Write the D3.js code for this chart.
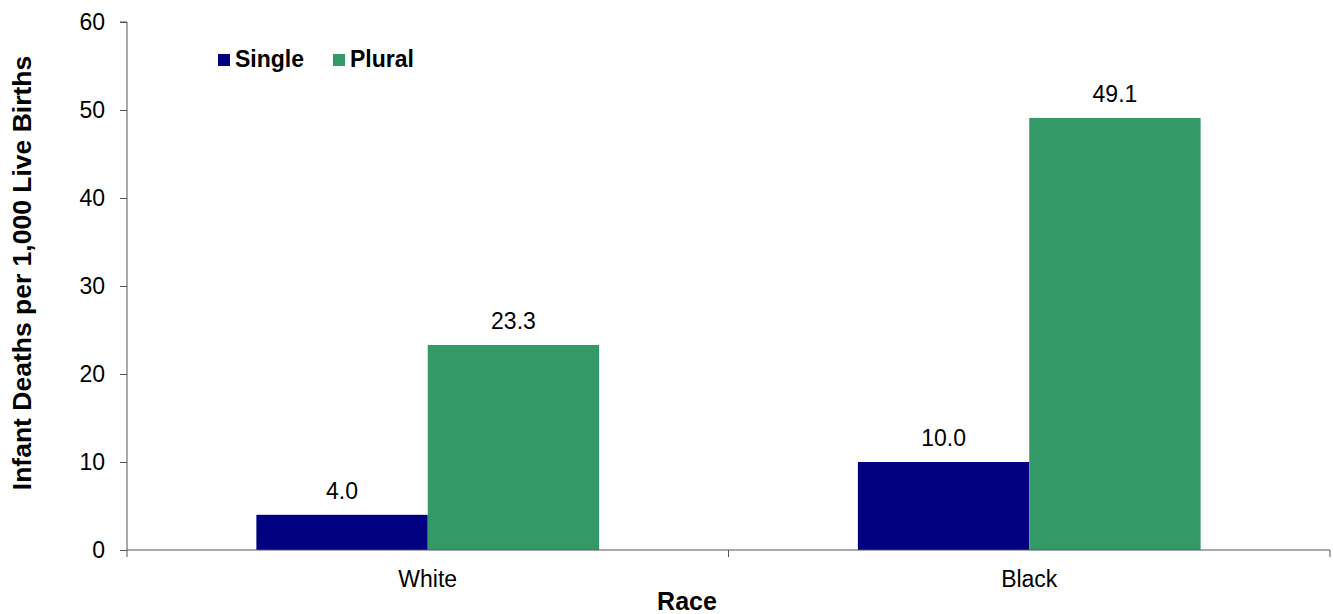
<!DOCTYPE html>
<html><head><meta charset="utf-8">
<script src="https://cdn.jsdelivr.net/npm/d3@7"></script>
<style>body{margin:0;background:#fff}svg{display:block;font-family:"Liberation Sans",Arial,sans-serif}</style>
</head><body>
<svg id="c" width="1333" height="614"></svg>
<script>
const categories = ["White", "Black"];
const seriesNames = ["Single", "Plural"];
const singleValues = [4.0, 10.0];
const pluralValues = [23.3, 49.1];
const yTicks = [0, 10, 20, 30, 40, 50, 60];
const colors = {Single: "#000080", Plural: "#339966"};

(function () {
const svg = d3.select("#c");
const mLeft = 127, mRight = 1330, mTop = 22, mBottom = 550;

const x = d3.scaleBand().domain(categories).range([mLeft, mRight]).paddingInner(0).paddingOuter(0);
const inner = d3.scaleBand().domain(seriesNames).range([0, x.bandwidth()]).paddingInner(0).paddingOuter(0.755);
const y = d3.scaleLinear().domain([0, 60]).range([mBottom, mTop]);

const data = [];
categories.forEach((c, i) => {
  data.push({cat: c, s: "Single", v: singleValues[i]});
  data.push({cat: c, s: "Plural", v: pluralValues[i]});
});

svg.append("g").selectAll("rect").data(data).join("rect")
  .attr("x", d => x(d.cat) + inner(d.s))
  .attr("width", inner.bandwidth())
  .attr("y", d => y(d.v))
  .attr("height", d => y(0) - y(d.v))
  .attr("fill", d => colors[d.s]);

svg.append("g").selectAll("text").data(data).join("text")
  .attr("x", d => x(d.cat) + inner(d.s) + inner.bandwidth() / 2)
  .attr("y", d => y(d.v) - 16)
  .attr("text-anchor", "middle")
  .attr("font-size", 23)
  .attr("fill", "#000")
  .text(d => d.v.toFixed(1));

const yAxis = d3.axisLeft(y).tickValues(yTicks).tickSize(7).tickPadding(15).tickFormat(d3.format("d"));
const gy = svg.append("g").attr("transform", `translate(${mLeft},0)`).call(yAxis);
gy.select(".domain").attr("stroke", "#555").attr("d", `M-7,${mTop}H0V${mBottom}`);
gy.selectAll(".tick line").attr("stroke", "#555");
gy.selectAll(".tick text").attr("font-size", 23).attr("fill", "#000").attr("font-family", "Liberation Sans, Arial, sans-serif");

const gx = svg.append("g").attr("transform", `translate(0,${mBottom})`);
gx.append("line").attr("x1", mLeft).attr("x2", mRight).attr("y1", 0).attr("y2", 0).attr("stroke", "#555");
const boundaries = [mLeft, ...categories.map(c => x(c) + x.bandwidth())];
gx.selectAll("line.t").data(boundaries).join("line").attr("class", "t")
  .attr("x1", d => d).attr("x2", d => d).attr("y1", 0).attr("y2", 7).attr("stroke", "#555");
gx.selectAll("text").data(categories).join("text")
  .attr("x", d => x(d) + x.bandwidth() / 2)
  .attr("y", 37)
  .attr("text-anchor", "middle")
  .attr("font-size", 23)
  .attr("fill", "#000")
  .text(d => d);

svg.append("text").attr("x", 687).attr("y", 610).attr("text-anchor", "middle")
  .attr("font-size", 25).attr("font-weight", "bold").text("Race");
svg.append("text").attr("transform", "translate(31,273) rotate(-90)").attr("text-anchor", "middle")
  .attr("font-size", 26.5).attr("font-weight", "bold").text("Infant Deaths per 1,000 Live Births");

const legX = [218, 333];
const lg = svg.append("g").selectAll("g").data(seriesNames).join("g")
  .attr("transform", (d, i) => `translate(${legX[i]},54)`);
lg.append("rect").attr("width", 12).attr("height", 12).attr("fill", d => colors[d]);
lg.append("text").attr("x", 17).attr("y", 13).attr("font-size", 23).attr("font-weight", "bold").text(d => d);
})();
</script>
</body></html>
